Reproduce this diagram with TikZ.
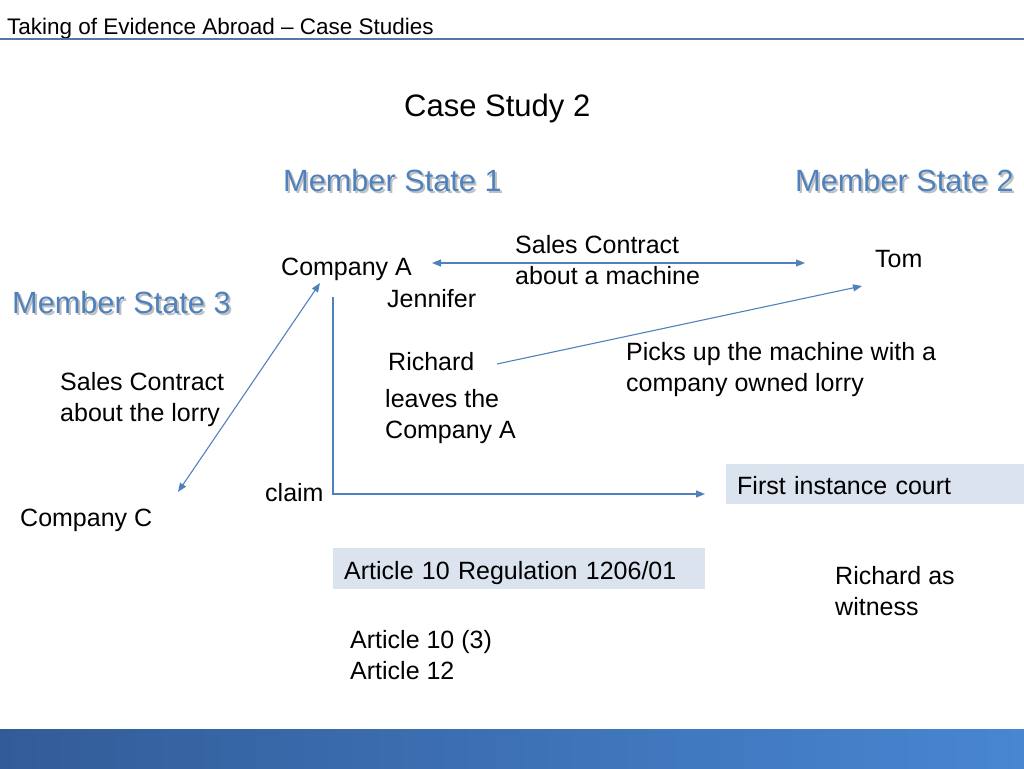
\documentclass[tikz,border=0pt]{standalone}
\usepackage{fontspec}
\setmainfont{Liberation Sans}
\usetikzlibrary{arrows.meta}
\definecolor{msblue}{RGB}{79,129,189}
\definecolor{arrowblue}{RGB}{79,129,189}
\definecolor{boxfill}{RGB}{219,227,238}
\definecolor{rulecol}{RGB}{84,119,166}
\definecolor{barleft}{RGB}{50,92,152}
\definecolor{barright}{RGB}{72,134,210}
\begin{document}
\begin{tikzpicture}[x=1pt,y=-1pt,
  hdr/.style={inner sep=0, anchor=base west, font=\fontsize{22.5}{26}\selectfont},
  big/.style={inner sep=0, anchor=base west, font=\fontsize{31}{36}\selectfont},
  ms/.style={inner sep=0, anchor=base west, font=\fontsize{30.7}{36}\selectfont, text=msblue},
  msshadow/.style={inner sep=0, anchor=base west, font=\fontsize{30.7}{36}\selectfont, text=black!25},
  txt/.style={inner sep=0, anchor=base west, font=\fontsize{25}{31}\selectfont},
  ml/.style={inner sep=0, anchor=north west, align=left, font=\fontsize{25}{31}\selectfont},
  boxst/.style={fill=boxfill, anchor=north west, inner xsep=11pt, inner ysep=5pt, text depth=5pt, align=left, font=\fontsize{25}{31}\selectfont},
  conn/.style={draw=arrowblue, line width=1.1pt, -{Triangle[length=9pt,width=7pt]}},
  dconn/.style={draw=arrowblue, line width=1.1pt, {Triangle[length=9pt,width=7pt]}-{Triangle[length=9pt,width=7pt]}},
]
\useasboundingbox (0,0) rectangle (1024,768);

% header
\node[hdr] (title) at (7,34.5) {Taking of Evidence Abroad – Case Studies};
\coordinate (ruleL) at (0,39.5);
\coordinate (ruleR) at (1024,39.5);
\draw[rulecol, line width=2pt] (ruleL) -- (ruleR);

% bottom bar
\shade[left color=barleft, right color=barright] (0,729) rectangle (1024,768);

\node[big] (cs) at (404,116.5) {Case Study 2};

% member states with shadow
\node[msshadow] (ms1s) at (285,193) {Member State 1};
\node[ms] (ms1) at (283,191) {Member State 1};
\node[msshadow] (ms2s) at (797,193) {Member State 2};
\node[ms] (ms2) at (795,191) {Member State 2};
\node[msshadow] (ms3s) at (14,315) {Member State 3};
\node[ms] (ms3) at (12,313) {Member State 3};

% texts
\node[txt] (compA) at (281,275) {Company A};
\node[ml] (sc1) at (515,235) {Sales Contract\\about a machine};
\node[txt] (tom) at (875,267) {Tom};
\node[txt] (jen) at (387,307) {Jennifer};
\node[txt] (rich) at (388,370) {Richard};
\node[ml] (leaves) at (385,389) {leaves the\\Company A};
\node[ml] (picks) at (626,342) {Picks up the machine with a\\company owned lorry};
\node[ml] (sc2) at (60,372) {Sales Contract\\about the lorry};
\node[txt] (claim) at (265,501) {claim};
\node[txt] (compC) at (20,526) {Company C};
\node[boxst, text height=25pt, text width=276pt] (court) at (726,464) {First instance court};
\node[boxst, text height=26pt, text width=350pt] (art) at (333,548) {Article 10 Regulation 1206/01};
\node[ml] (witness) at (835,566) {Richard as\\witness};
\node[ml] (arts) at (350,630) {Article 10 (3)\\Article 12};

% connectors
\coordinate (aL) at (432,263);
\coordinate (aR) at (805,263);
\draw[dconn] (aL) -- (aR);

\coordinate (rS) at (497,364);
\coordinate (rE) at (862,286);
\draw[conn] (rS) -- (rE);

\coordinate (cA) at (320,283);
\coordinate (cC) at (178,492);
\draw[dconn] (cA) -- (cC);

\coordinate (clTop) at (333,297);
\coordinate (clCorner) at (333,494);
\coordinate (clEnd) at (705,494);
\draw[conn] (clTop) -- (clCorner) -- (clEnd);
\end{tikzpicture}
\end{document}
